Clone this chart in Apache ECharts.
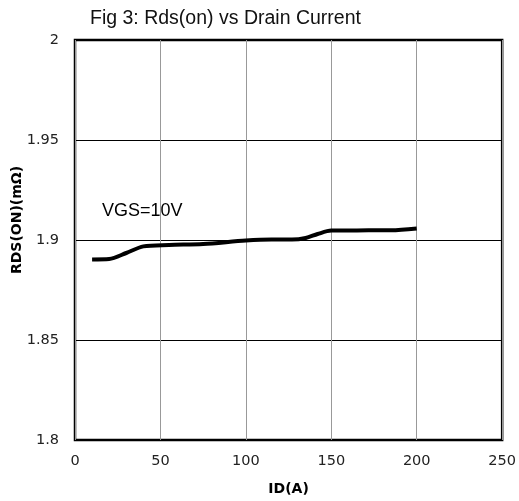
<!DOCTYPE html>
<html><head><meta charset="utf-8">
<script src="https://cdn.jsdelivr.net/npm/echarts@6/dist/echarts.min.js"></script>
<style>html,body{margin:0;padding:0;background:#fff}#c{width:519px;height:501px}</style>
</head><body><div id="c"></div>
<script>
const titleText = "Fig 3: Rds(on) vs Drain Current";
const xName = "ID(A)";
const yName = "RDS(ON)(mΩ)";
const annotation = "VGS=10V";
const idValues = [10, 20, 30, 40, 55, 75, 100, 115, 127, 135, 142, 150, 165, 185, 200];
const rdsValues = [1.8903, 1.8905, 1.8935, 1.8968, 1.8975, 1.898, 1.8997, 1.9002, 1.9002, 1.901, 1.903, 1.9047, 1.9048, 1.9049, 1.9058];

const chart = echarts.init(document.getElementById('c'), null, {renderer: 'canvas'});
chart.setOption({
  animation: false,
  backgroundColor: '#fff',
  title: {
    text: titleText, left: 85, top: 4,
    textStyle: {fontFamily: 'Liberation Sans', fontSize: 19.5, fontWeight: 'normal', color: '#111'}
  },
  grid: {left: 75, right: 14, top: 40, bottom: 61, show: true, borderColor: '#000', borderWidth: 2.5},
  xAxis: {
    type: 'value', min: 0, max: 250, interval: 50,
    name: xName, nameLocation: 'middle', nameGap: 42,
    nameTextStyle: {fontFamily: 'DejaVu Sans', fontSize: 14, fontWeight: 'bold', color: '#000'},
    axisLine: {show: false}, axisTick: {show: false},
    axisLabel: {fontFamily: 'DejaVu Sans', fontSize: 14.5, color: '#222', margin: 14},
    splitLine: {show: true, lineStyle: {color: '#999', width: 1}}
  },
  yAxis: {
    type: 'value', min: 1.8, max: 2, interval: 0.05,
    axisLine: {show: false}, axisTick: {show: false},
    axisLabel: {fontFamily: 'DejaVu Sans', fontSize: 14.5, color: '#222', margin: 16,
      formatter: v => String(parseFloat(v.toFixed(2)))},
    splitLine: {show: true, lineStyle: {color: '#000', width: 1}}
  },
  graphic: [
    {type: 'text', x: 102, y: 211, style: {text: annotation, fontFamily: 'Liberation Sans', fontSize: 18, fill: '#000', verticalAlign: 'middle'}},
    {type: 'text', x: 17, y: 220, rotation: Math.PI / 2,
      style: {text: yName, fontFamily: 'DejaVu Sans', fontSize: 14, fontWeight: 'bold', fill: '#000', align: 'center', verticalAlign: 'middle'}}
  ],
  series: [{
    type: 'line', data: idValues.map((x, i) => [x, rdsValues[i]]),
    smooth: 0.3, showSymbol: false, symbol: 'none',
    lineStyle: {color: '#000', width: 4}
  }]
});
</script></body></html>
